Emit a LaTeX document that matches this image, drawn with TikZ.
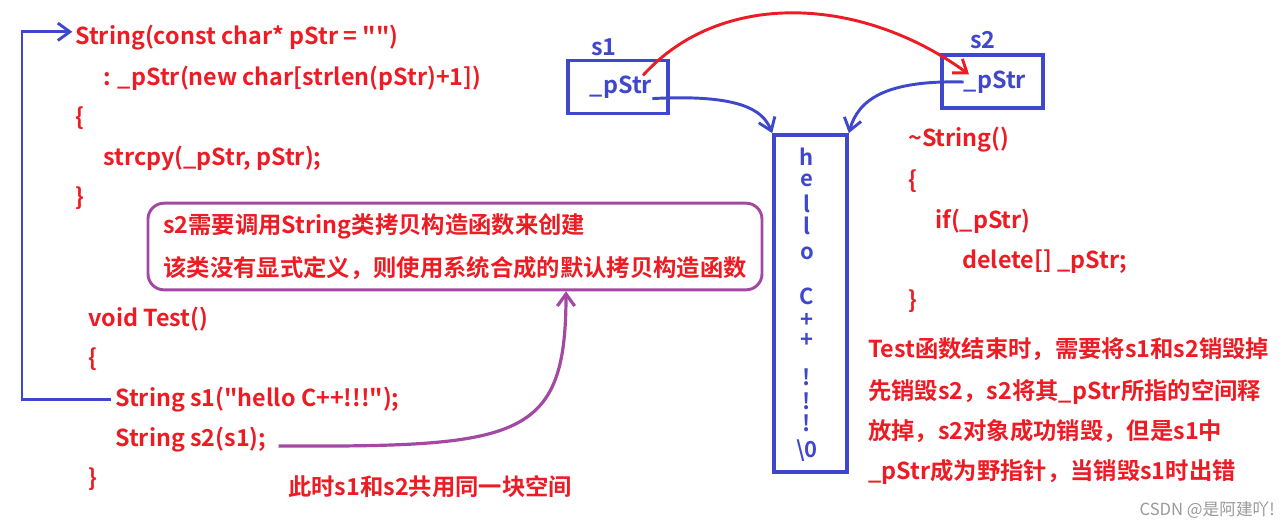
\documentclass[tikz,border=0pt]{standalone}
\usepackage{fontspec}
\setmainfont{Noto Sans CJK SC}[BoldFont={Noto Sans CJK SC Bold}]
\usepackage{tikz}
\usetikzlibrary{
    arrows.meta,
    positioning,
    calc
}
\definecolor{codered}{RGB}{237,28,36}
\definecolor{ptrblue}{RGB}{63,72,204}
\definecolor{notepurple}{RGB}{163,73,164}

\begin{document}
\begin{tikzpicture}[
    x=0.75pt, y=-0.75pt,
    code/.style={
        anchor=base west,
        inner sep=0pt,
        text=codered,
        font=\bfseries\fontsize{17.5}{21}\selectfont
    },
    ptrtext/.style={
        inner sep=0pt,
        text=ptrblue,
        font=\bfseries\fontsize{17.5}{21}\selectfont
    },
    membox/.style={
        rectangle,
        draw=ptrblue,
        line width=2.8pt
    },
    heapchar/.style={
        inner sep=0pt,
        text=ptrblue,
        font=\bfseries\fontsize{16.5}{19}\selectfont
    },
    notebox/.style={
        rectangle,
        draw=notepurple,
        line width=2.2pt,
        rounded corners=12pt,
        align=left,
        text=codered,
        minimum width=460.5pt,
        minimum height=65pt,
        font=\bfseries\fontsize{17.5}{32.25}\selectfont
    },
    ptrarrow/.style={
        -{Straight Barb[length=9pt, width=13pt]},
        ptrblue,
        line width=2.2pt
    },
    sharearrow/.style={
        -{Straight Barb[length=9pt, width=13pt]},
        codered,
        line width=2.2pt
    },
    notearrow/.style={
        -{Straight Barb[length=9pt, width=13pt]},
        notepurple,
        line width=2.4pt
    }
]
\useasboundingbox (0,0) rectangle (1287,526);

% 构造函数
\node[code] (ctor) at (75,44) {String(const char* pStr = \textquotedbl\textquotedbl)};
\node[code] (init) at (103,85) {: \_pStr(new char[strlen(pStr)+1])};
\node[code] (lbrace1) at (75,125) {\{};
\node[code] (copyline) at (103,165) {strcpy(\_pStr, pStr);};
\node[code] (rbrace1) at (75,205) {\}};

% 说明框
\node[notebox] (note) at (455,246.5)
    {s2需要调用String类拷贝构造函数来创建\\该类没有显式定义，则使用系统合成的默认拷贝构造函数};

% 测试函数
\node[code] (testhead) at (88,326) {void Test()};
\node[code] (lbrace2) at (88,366) {\{};
\node[code] (calls1) at (115,406) {String s1(\textquotedbl hello C++!!!\textquotedbl);};
\node[code] (calls2) at (115,446) {String s2(s1);};
\node[code] (rbrace2) at (88,486) {\}};
\node[code] (sharenote) at (288,495) {此时s1和s2共用同一块空间};

% 对象与堆空间
\node[membox, minimum width=75pt, minimum height=39.75pt] (s1box) at (618,87) {};
\node[ptrtext] (s1ptr) at (621,87) {\_pStr};
\node[ptrtext] (s1lbl) at (604,47) {s1};
\node[membox, minimum width=75.75pt, minimum height=39.75pt] (s2box) at (992.5,81.5) {};
\node[ptrtext] (s2ptr) at (995,82) {\_pStr};
\node[ptrtext] (s2lbl) at (983,40) {s2};
\node[membox, minimum width=54.75pt, minimum height=252.75pt] (heap) at (810.5,303.5) {};
\foreach \c/\y [count=\k] in {h/157, e/180, l/204, l/226, o/253, C/296,
                               +/320, +/340, !/377, !/401, !/423, {\textbackslash 0}/451}
    \node[heapchar] (ch\k) at (807,\y) {\c};

% 析构函数
\node[code] (dtor) at (908,146) {\textasciitilde String()};
\node[code] (lbrace3) at (908,188) {\{};
\node[code] (ifline) at (935,228) {if(\_pStr)};
\node[code] (delline) at (962,268) {delete[] \_pStr;};
\node[code] (rbrace3) at (908,308) {\}};

% 右侧说明
\node[code] (expl1) at (868,357) {Test函数结束时，需要将s1和s2销毁掉};
\node[code] (expl2) at (868,399) {先销毁s2，s2将其\_pStr所指的空间释};
\node[code] (expl3) at (868,439) {放掉，s2对象成功销毁，但是s1中};
\node[code] (expl4) at (868,479) {\_pStr成为野指针，当销毁s1时出错};

\node[anchor=base east, inner sep=0pt, text=black!40,
      font=\fontsize{12.5}{15}\selectfont] (mark) at (1275,515) {CSDN @是阿建吖!};

% 连线
\coordinate (rail) at (22,0);
\draw[ptrarrow] ([xshift=-3pt]calls1.west) -- (calls1.west -| rail)
    |- ([xshift=-2pt,yshift=4pt]ctor.west);
\draw[sharearrow] ([xshift=-7pt]s1ptr.north east)
    .. controls (720,-10) and (860,-5) .. ([xshift=4pt,yshift=-3pt]s2ptr.north west);
\draw[ptrarrow] (s1ptr.south east) .. controls (740,94) and (763,110) .. (heap.north west);
\draw[ptrarrow] (s2ptr.west) .. controls (885,80) and (858,100) .. (heap.north east);
\draw[notearrow] ([xshift=9pt]calls2.base east)
    .. controls (520,447) and (566,440) .. ($(note.south)+(111,0)$);

\end{tikzpicture}
\end{document}
